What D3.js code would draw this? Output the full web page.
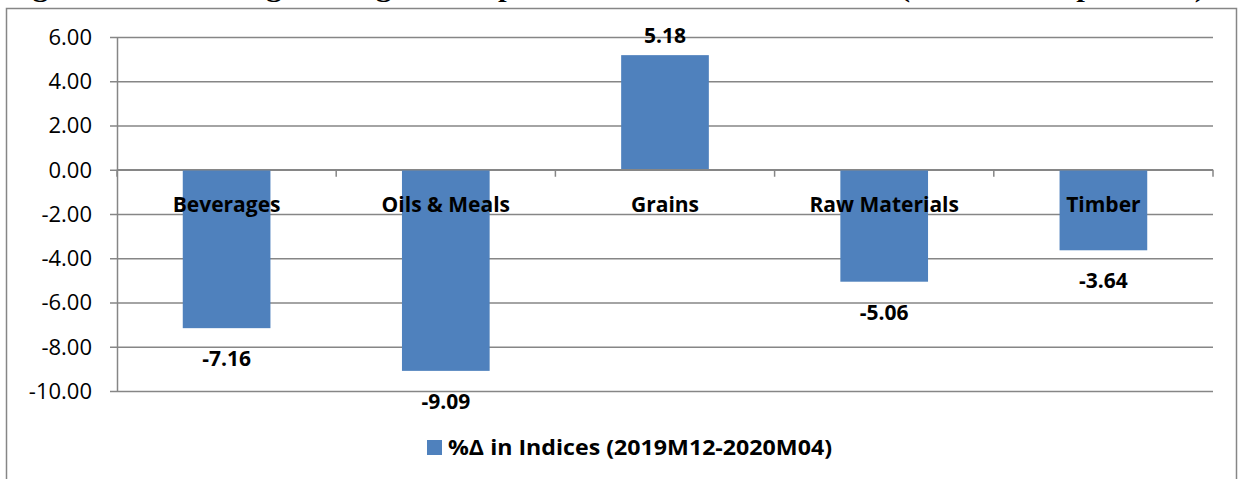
<!DOCTYPE html>
<html>
<head>
<meta charset="utf-8">
<script src="https://cdn.jsdelivr.net/npm/d3@7"></script>
<style>
  body { margin: 0; background: #fff; }
  svg { display: block; }
  text { font-family: "Open Sans", sans-serif; fill: #000; }
</style>
</head>
<body>
<svg width="1244" height="479"></svg>
<script>
var categories = ["Beverages", "Oils & Meals", "Grains", "Raw Materials", "Timber"];
var values = [-7.16, -9.09, 5.18, -5.06, -3.64];
var yTicks = [6, 4, 2, 0, -2, -4, -6, -8, -10];
var seriesName = "%\u0394 in Indices (2019M12-2020M04)";
var title = "Figure 10: Percentage Change in Crops and Raw Materials Indices (December-April 2020)";

var svg = d3.select("svg"),
    margin = {top: 37, right: 31, bottom: 88, left: 117},
    width = 1244 - (margin.left + margin.right),
    height = 479 - (margin.top + margin.bottom);

var blue = "#4f81bd",
    grey = "#868686";

// plain hyphen for negatives, like the original
var fmt = function(d) { return d3.format(".2f")(d).replace("\u2212", "-"); };

// title sits above the frame, only its bottom shows
svg.append("text")
    .attr("x", 5)
    .attr("y", -3.5)
    .attr("textLength", 1200)
    .attr("lengthAdjust", "spacingAndGlyphs")
    .style("font-family", "'Liberation Serif', serif")
    .style("font-weight", "bold")
    .style("font-size", "26px")
    .text(title);

// chart frame
svg.append("rect")
    .attr("x", 6.5)
    .attr("y", 8.5)
    .attr("width", 1230)
    .attr("height", 520)
    .attr("fill", "#fff")
    .attr("stroke", grey)
    .attr("stroke-width", 1.5);

var x = d3.scaleBand().domain(categories).range([0, width]).padding(0),
    y = d3.scaleLinear().domain([-10, 6]).range([height, 0]);

var g = svg.append("g").attr("transform", "translate(" + margin.left + "," + margin.top + ")");

// gridlines + y axis
var yAxis = g.append("g")
    .attr("class", "axis axis-y")
    .call(d3.axisLeft(y).tickValues(yTicks).tickSize(-width).tickSizeOuter(0)
        .tickFormat(fmt).tickPadding(25));

yAxis.select(".domain").attr("stroke", grey).attr("stroke-width", 1.5);
yAxis.selectAll(".tick line").attr("stroke", grey).attr("stroke-width", 1.5);
yAxis.selectAll(".tick").append("line")
    .attr("x1", -7).attr("x2", 0)
    .attr("stroke", grey).attr("stroke-width", 1.5);
yAxis.selectAll(".tick text")
    .attr("dy", "0.34em")
    .style("font-family", "'Open Sans', sans-serif")
    .style("font-size", "22px")
    .attr("fill", "#000");

// bars
g.selectAll(".bar")
    .data(values)
    .enter().append("rect")
    .attr("class", "bar")
    .attr("x", function(d, i) { return x(categories[i]) + 0.3 * x.bandwidth(); })
    .attr("y", function(d) { return y(Math.max(0, d)); })
    .attr("width", 0.4 * x.bandwidth())
    .attr("height", function(d) { return Math.abs(y(d) - y(0)); })
    .attr("fill", blue);

// category axis along zero
var xAxis = g.append("g")
    .attr("class", "axis axis-x")
    .attr("transform", "translate(0," + y(0) + ")");

xAxis.append("line")
    .attr("x1", 0).attr("x2", width)
    .attr("stroke", grey).attr("stroke-width", 1.5);

xAxis.selectAll(".xtick")
    .data(d3.range(categories.length + 1))
    .enter().append("line")
    .attr("x1", function(i) { return i * x.step(); })
    .attr("x2", function(i) { return i * x.step(); })
    .attr("y1", 0).attr("y2", 7)
    .attr("stroke", grey).attr("stroke-width", 1.5);

xAxis.selectAll(".xlabel")
    .data(categories)
    .enter().append("text")
    .attr("x", function(d) { return x(d) + x.bandwidth() / 2; })
    .attr("y", 42)
    .attr("text-anchor", "middle")
    .style("font-weight", "bold")
    .style("font-size", "21px")
    .text(function(d) { return d; });

// value labels
g.selectAll(".value")
    .data(values)
    .enter().append("text")
    .attr("x", function(d, i) { return x(categories[i]) + x.bandwidth() / 2; })
    .attr("y", function(d) { return d < 0 ? y(d) + 38 : y(d) - 12; })
    .attr("text-anchor", "middle")
    .style("font-weight", "bold")
    .style("font-size", "21px")
    .text(fmt);

// legend
var legend = svg.append("g").attr("transform", "translate(427,440)");
legend.append("rect")
    .attr("width", 15).attr("height", 15)
    .attr("fill", blue);
legend.append("text")
    .attr("x", 21).attr("y", 15)
    .attr("textLength", 384)
    .attr("lengthAdjust", "spacingAndGlyphs")
    .style("font-weight", "bold")
    .style("font-size", "22px")
    .text(seriesName);
</script>
</body>
</html>
